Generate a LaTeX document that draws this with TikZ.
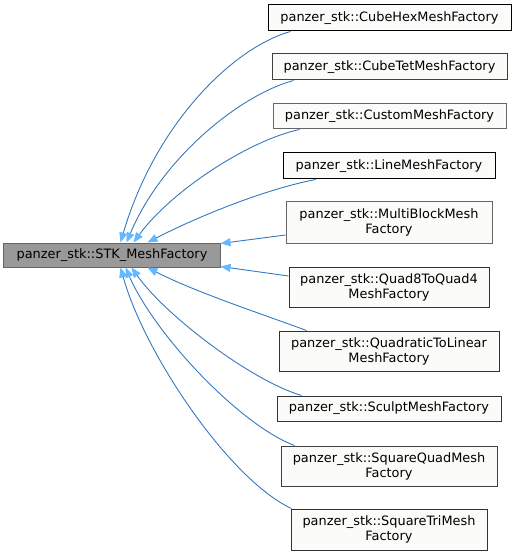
\documentclass[tikz,border=0pt]{standalone}
\usepackage{fontspec}
\setmainfont{DejaVu Sans}
\usetikzlibrary{arrows.meta,calc}
\definecolor{edgecol}{HTML}{3478BE}
\definecolor{tipcol}{HTML}{63B8FF}
\definecolor{basefill}{HTML}{999999}
\definecolor{childfill}{HTML}{FBFCFA}
\tikzset{
  box/.style={draw=black, fill=childfill, line width=1bp, inner sep=0pt, align=center,
    font=\fontsize{12.9bp}{15bp}\selectfont},
  basebox/.style={box, fill=basefill, draw=black!60},
  edge/.style={draw=edgecol, line width=0.9bp,
    -{Triangle[length=10bp,width=8bp,fill=tipcol,color=tipcol]}}
}
\begin{document}
\begin{tikzpicture}[x=1bp,y=-1bp]
\useasboundingbox (0,0) rectangle (516,555);
\node[basebox, minimum width=216bp, minimum height=24bp] (base) at (112,255) {panzer\_stk::STK\_MeshFactory};
\node[box, minimum width=243bp, minimum height=26bp] (hex) at (389.5,18) {panzer\_stk::CubeHexMeshFactory};
\node[box, draw=black!75, minimum width=235bp, minimum height=26bp] (tet) at (389.5,67) {panzer\_stk::CubeTetMeshFactory};
\node[box, draw=black!60, minimum width=233bp, minimum height=25bp] (cust) at (389.5,116.5) {panzer\_stk::CustomMeshFactory};
\node[box, minimum width=212bp, minimum height=26bp] (line) at (389,166) {panzer\_stk::LineMeshFactory};
\node[box, draw=black!60, minimum width=206bp, minimum height=41bp] (multi) at (389,222.5) {panzer\_stk::MultiBlockMesh\\Factory};
\node[box, draw=black!80, minimum width=200bp, minimum height=40bp] (quad8) at (389,287) {panzer\_stk::Quad8ToQuad4\\MeshFactory};
\node[box, draw=black!80, minimum width=220bp, minimum height=40bp] (qtl) at (389,351) {panzer\_stk::QuadraticToLinear\\MeshFactory};
\node[box, draw=black!80, minimum width=224bp, minimum height=25bp] (sculpt) at (389,408.5) {panzer\_stk::SculptMeshFactory};
\node[box, draw=black!75, minimum width=216bp, minimum height=40bp] (sq) at (389,466) {panzer\_stk::SquareQuadMesh\\Factory};
\node[box, draw=black!80, minimum width=196bp, minimum height=41bp] (tri) at (389,529.5) {panzer\_stk::SquareTriMesh\\Factory};

\draw[edge] ($(hex.south west)+(23,0)$) .. controls (232,48) and (155,125) .. ($(base.north west)+(117,0)$);
\draw[edge] ($(tet.south west)+(22,0)$) .. controls (240,95) and (162,158) .. ($(base.north west)+(123,0)$);
\draw[edge] ($(cust.south west)+(27,0)$) .. controls (250,140) and (172,190) .. ($(base.north west)+(130,0)$);
\draw[edge] ($(line.south west)+(33,0)$) .. controls (262,190) and (195,218) .. ($(base.north west)+(144,0)$);
\draw[edge] ($(multi.west)+(0,12.5)$) -- ($(base.north east)+(0,1)$);
\draw[edge] ($(quad8.west)+(0,-11)$) -- ($(base.south east)+(0,-1)$);
\draw[edge] ($(qtl.north west)+(28,0)$) .. controls (262,314) and (195,292) .. ($(base.south west)+(144,0)$);
\draw[edge] ($(sculpt.north west)+(25,0)$) .. controls (250,380) and (165,315) .. ($(base.south west)+(128,0)$);
\draw[edge] ($(sq.north west)+(14,0)$) .. controls (240,425) and (155,335) .. ($(base.south west)+(122,0)$);
\draw[edge] ($(tri.north west)+(1,0)$) .. controls (230,480) and (145,355) .. ($(base.south west)+(117,0)$);
\end{tikzpicture}
\end{document}
